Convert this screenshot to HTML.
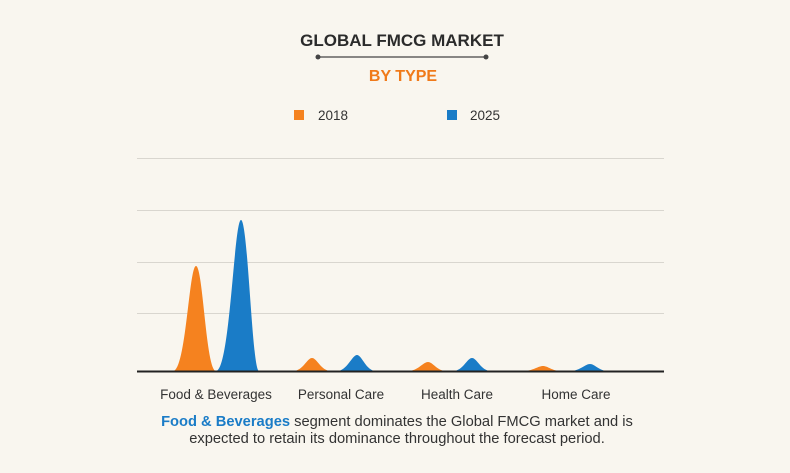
<!DOCTYPE html>
<html><head><meta charset="utf-8"><style>
body{margin:0;background:#f9f6ef;}
svg{display:block}
text{font-family:"Liberation Sans",sans-serif}
</style></head><body>
<svg width="790" height="473" viewBox="0 0 790 473">
<rect width="790" height="473" fill="#f9f6ef"/>
<text x="402" y="46" text-anchor="middle" font-size="17" font-weight="bold" fill="#2b2b2b">GLOBAL FMCG MARKET</text>
<line x1="318" y1="57" x2="486" y2="57" stroke="#444" stroke-width="1.3"/>
<circle cx="318" cy="57" r="2.5" fill="#444"/><circle cx="486" cy="57" r="2.5" fill="#444"/>
<text x="403" y="81" text-anchor="middle" font-size="16" font-weight="bold" fill="#f07a1a">BY TYPE</text>
<rect x="294" y="110" width="10" height="10" fill="#f5821f"/>
<text x="318" y="120" font-size="13.5" fill="#333">2018</text>
<rect x="447" y="110" width="10" height="10" fill="#1a7cc7"/>
<text x="470" y="120" font-size="13.5" fill="#333">2025</text>
<g stroke="#d9d6cf" stroke-width="1">
<line x1="137" y1="158.5" x2="664" y2="158.5"/>
<line x1="137" y1="210.5" x2="664" y2="210.5"/>
<line x1="137" y1="262.5" x2="664" y2="262.5"/>
<line x1="137" y1="313.5" x2="664" y2="313.5"/>
</g>
<g>
<path d="M173,371 C186,371 189,266 196,266 C203,266 206,371 216,371Z" fill="#f5821f"/>
<path d="M216,371 C230,371 234,220 241,220 C248,220 252,371 259,371Z" fill="#1a7cc7"/>
<path d="M293,371 C303,371 307,358 312,358 C317,358 321,371 331,371Z" fill="#f5821f"/>
<path d="M337,371 C347,371 352,355 357,355 C362,355 366,371 376,371Z" fill="#1a7cc7"/>
<path d="M408,371 C418,371 423,362 428,362 C433,362 437,371 446,371Z" fill="#f5821f"/>
<path d="M453,371 C463,371 467,358 472,358 C477,358 481,371 491,371Z" fill="#1a7cc7"/>
<path d="M523,371 C533,371 538,366 543,366 C548,366 552,371 561,371Z" fill="#f5821f"/>
<path d="M570,371 C580,371 585,364 590,364 C595,364 599,371 608,371Z" fill="#1a7cc7"/>
</g>
<line x1="137" y1="371.5" x2="664" y2="371.5" stroke="#222" stroke-width="2"/>
<g font-size="13.5" fill="#333" text-anchor="middle">
<text x="216" y="399">Food &amp; Beverages</text>
<text x="341" y="399">Personal Care</text>
<text x="457" y="399">Health Care</text>
<text x="576" y="399">Home Care</text>
</g>
<g font-size="14.7" fill="#333" text-anchor="middle">
<text x="397" y="426"><tspan fill="#1a7cc7" font-weight="bold">Food &amp; Beverages</tspan> segment dominates the Global FMCG market and is</text>
<text x="397" y="443">expected to retain its dominance throughout the forecast period.</text>
</g>
</svg>
</body></html>
